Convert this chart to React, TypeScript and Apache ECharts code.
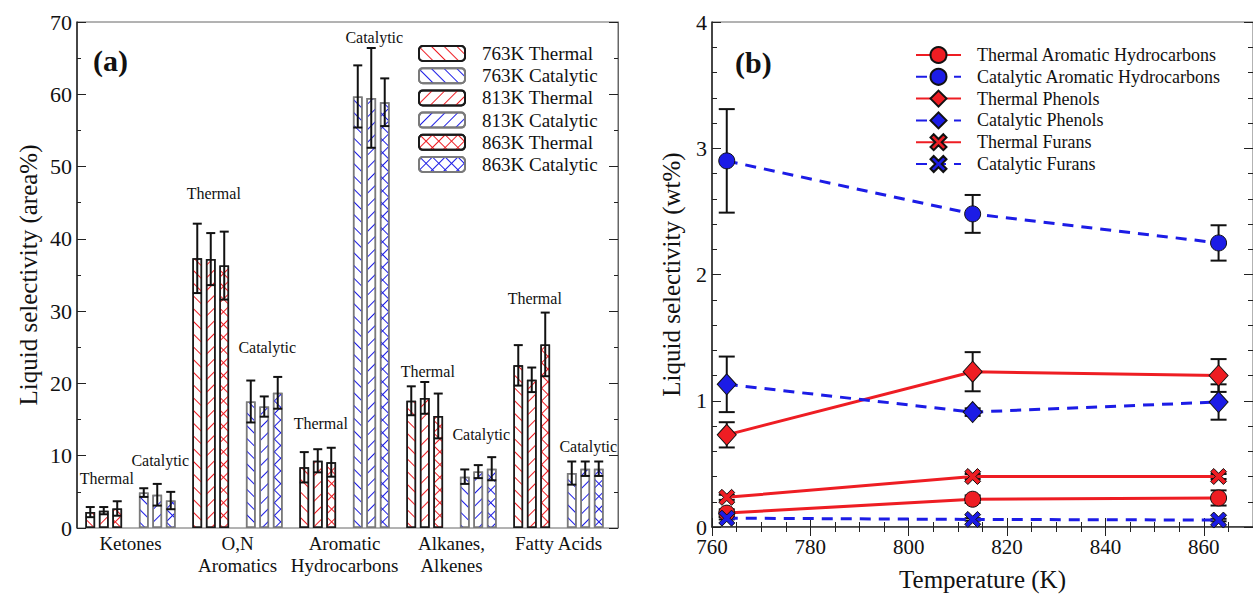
import React, { useEffect, useRef } from "react";
import * as echarts from "echarts";

// ---------- Panel (a) data ----------
const groupNames = ["Ketones", "O,N\nAromatics", "Aromatic\nHydrocarbons", "Alkanes,\nAlkenes", "Fatty Acids"];
const barCategories = ["K-T", "K-C", "ON-T", "ON-C", "AH-T", "AH-C", "AA-T", "AA-C", "FA-T", "FA-C"];
const thermal763 = [2.2, 37.3, 8.4, 17.6, 22.5];
const thermal813 = [2.4, 37.2, 9.3, 18.0, 20.5];
const thermal863 = [2.7, 36.3, 9.1, 15.5, 25.4];
const catalytic763 = [4.9, 17.5, 59.7, 7.1, 7.6];
const catalytic813 = [4.6, 16.8, 59.5, 7.8, 8.2];
const catalytic863 = [3.8, 18.7, 58.9, 8.2, 8.2];
const thermal763Err = [0.7, 4.8, 2.1, 2.0, 2.8];
const thermal813Err = [0.5, 3.6, 1.6, 2.2, 1.7];
const thermal863Err = [1.0, 4.7, 2.0, 3.1, 4.4];
const catalytic763Err = [0.6, 2.9, 4.3, 1.0, 1.6];
const catalytic813Err = [1.5, 1.4, 6.9, 0.9, 1.0];
const catalytic863Err = [1.2, 2.2, 3.3, 1.6, 1.0];
const thermalLabelY = [6.9, 46.3, 14.5, 21.6, 31.7];
const catalyticLabelY = [9.4, 25.0, 67.9, 12.9, 11.3];
const yTicksA = { min: 0, max: 70, interval: 10 };

// ---------- Panel (b) data ----------
const temperatures = [763, 813, 863];
const thermalAH = [0.11, 0.22, 0.23];
const thermalAHErr = [0.03, 0.03, 0.06];
const catalyticAH = [2.9, 2.48, 2.25];
const catalyticAHErr = [0.41, 0.15, 0.14];
const thermalPhenols = [0.73, 1.23, 1.2];
const thermalPhenolsErr = [0.1, 0.155, 0.13];
const catalyticPhenols = [1.13, 0.91, 0.99];
const catalyticPhenolsErr = [0.22, 0.03, 0.14];
const thermalFurans = [0.235, 0.4, 0.4];
const thermalFuransErr = [0.02, 0.02, 0.02];
const catalyticFurans = [0.07, 0.06, 0.055];
const catalyticFuransErr = [0.01, 0.01, 0.01];

const FONT = "Liberation Serif";
const RED = "#ee1d23";
const BLUE = "#1c1ce6";
const BAR_W = 9.7;
const BAR_GAP = 0.39;

const stripes = (color: string, rot: number) => ({
  symbol: "rect",
  symbolSize: 1,
  symbolKeepAspect: false,
  color,
  dashArrayX: [1, 0],
  dashArrayY: [1, 8],
  rotation: rot,
});
const cross = (color: string) => ({
  symbol: "rect",
  symbolSize: 1,
  symbolKeepAspect: false,
  color,
  dashArrayX: [
    [1, 8],
    [9, 0],
  ],
  dashArrayY: [8, 0, 1, 0],
  rotation: Math.PI / 4,
});

const X_SYMBOL = "path://M2,0 L5,3 L8,0 L10,2 L7,5 L10,8 L8,10 L5,7 L2,10 L0,8 L3,5 L0,2 Z";

function interleave(vals: number[], thermal: boolean) {
  const out: (number | string)[] = [];
  vals.forEach((v) => {
    if (thermal) out.push(v, "-");
    else out.push("-", v);
  });
  return out;
}

export default function App() {
  const ref = useRef<HTMLDivElement>(null);
  useEffect(() => {
    const chart = echarts.init(ref.current!, null, { renderer: "svg" });

    const barSpecs = [
      { name: "763K Thermal", vals: thermal763, errs: thermal763Err, thermal: true, t: 0 },
      { name: "763K Catalytic", vals: catalytic763, errs: catalytic763Err, thermal: false, t: 0 },
      { name: "813K Thermal", vals: thermal813, errs: thermal813Err, thermal: true, t: 1 },
      { name: "813K Catalytic", vals: catalytic813, errs: catalytic813Err, thermal: false, t: 1 },
      { name: "863K Thermal", vals: thermal863, errs: thermal863Err, thermal: true, t: 2 },
      { name: "863K Catalytic", vals: catalytic863, errs: catalytic863Err, thermal: false, t: 2 },
    ];

    const barSeries = barSpecs.map((s) => {
      const color = s.thermal ? RED : BLUE;
      const decal = s.t === 0 ? stripes(color, Math.PI / 4) : s.t === 1 ? stripes(color, -Math.PI / 4) : cross(color);
      return {
        type: "bar",
        name: s.name,
        xAxisIndex: 0,
        yAxisIndex: 0,
        stack: ["763K", "813K", "863K"][s.t],
        barWidth: BAR_W,
        barGap: BAR_GAP * 100 + "%",
        data: interleave(s.vals, s.thermal),
        itemStyle: {
          color: "#ffffff",
          borderColor: s.thermal ? "#1a1a1a" : "#7a7a7a",
          borderWidth: 1.5,
          decal,
        },
        z: 2,
      };
    });

    const barErrData: number[][] = [];
    barSpecs.forEach((s) => {
      s.vals.forEach((v, g) => {
        barErrData.push([g * 2 + (s.thermal ? 0 : 1), v, s.errs[g], s.t]);
      });
    });

    const labelData: any[] = [];
    groupNames.forEach((_, g) => {
      labelData.push({ value: [g * 2, thermalLabelY[g]], name: "Thermal" });
      labelData.push({ value: [g * 2 + 1, catalyticLabelY[g]], name: "Catalytic" });
    });

    const lineSpecs = [
      { name: "Thermal Aromatic Hydrocarbons", vals: thermalAH, errs: thermalAHErr, color: RED, dashed: false, symbol: "circle", size: 16 },
      { name: "Catalytic Aromatic Hydrocarbons", vals: catalyticAH, errs: catalyticAHErr, color: BLUE, dashed: true, symbol: "circle", size: 16 },
      { name: "Thermal Phenols", vals: thermalPhenols, errs: thermalPhenolsErr, color: RED, dashed: false, symbol: "diamond", size: [19, 21] },
      { name: "Catalytic Phenols", vals: catalyticPhenols, errs: catalyticPhenolsErr, color: BLUE, dashed: true, symbol: "diamond", size: [19, 21] },
      { name: "Thermal Furans", vals: thermalFurans, errs: thermalFuransErr, color: RED, dashed: false, symbol: X_SYMBOL, size: 16 },
      { name: "Catalytic Furans", vals: catalyticFurans, errs: catalyticFuransErr, color: BLUE, dashed: true, symbol: X_SYMBOL, size: 16 },
    ];

    const lineErrData: number[][] = [];
    lineSpecs.forEach((s) => {
      s.vals.forEach((v, i) => lineErrData.push([temperatures[i], v, s.errs[i]]));
    });

    const lineSeries = lineSpecs.map((s) => ({
      type: "line",
      name: s.name,
      xAxisIndex: 3,
      yAxisIndex: 3,
      data: s.vals.map((v, i) => [temperatures[i], v]),
      symbol: s.symbol,
      symbolSize: s.size,
      showAllSymbol: true,
      lineStyle: { color: s.color, width: 3, type: s.dashed ? [11, 8] : "solid" },
      itemStyle: { color: s.color, borderColor: "#111", borderWidth: 1, opacity: 1 },
      z: 3,
    }));

    const textStyle = { fontFamily: FONT, color: "#111" };

    const option: any = {
      animation: false,
      backgroundColor: "#ffffff",
      textStyle,
      grid: [
        { left: 77, top: 22, width: 535, height: 506, show: false },
        { left: 77, top: 22, width: 541, height: 506, show: true, borderColor: "#666", borderWidth: 1, backgroundColor: "transparent" },
        { left: 712, top: 22, width: 541, height: 506, show: true, borderColor: "#666", borderWidth: 1, backgroundColor: "transparent" },
      ],
      xAxis: [
        { gridIndex: 0, type: "category", data: barCategories, show: false },
        {
          gridIndex: 0,
          type: "category",
          data: groupNames,
          position: "bottom",
          axisLine: { show: false },
          axisTick: { show: false },
          axisLabel: { interval: 0, fontFamily: FONT, fontSize: 19, color: "#111", margin: 4, lineHeight: 22 },
        },
        { gridIndex: 1, type: "value", min: 0, max: 1, show: false },
        {
          gridIndex: 2,
          type: "value",
          min: 760,
          max: 870,
          interval: 20,
          position: "bottom",
          name: "Temperature (K)",
          nameLocation: "middle",
          nameGap: 40,
          nameTextStyle: { fontFamily: FONT, fontSize: 25, color: "#111" },
          axisLine: { show: true, lineStyle: { color: "#222", width: 1.5 } },
          axisTick: { show: true, inside: true, length: 9, lineStyle: { color: "#222" } },
          minorTick: { show: true, splitNumber: 4, length: 5, lineStyle: { color: "#222" } },
          splitLine: { show: false },
          axisLabel: { fontFamily: FONT, fontSize: 21, color: "#111", margin: 9, showMaxLabel: false },
        },
        {
          gridIndex: 2,
          type: "value",
          min: 760,
          max: 870,
          interval: 20,
          position: "top",
          axisLine: { show: true, lineStyle: { color: "#666" } },
          axisTick: { show: true, inside: true, length: 9, lineStyle: { color: "#222" } },
          minorTick: { show: true, splitNumber: 4, length: 5, lineStyle: { color: "#222" } },
          splitLine: { show: false },
          axisLabel: { show: false },
        },
      ],
      yAxis: [
        { gridIndex: 0, type: "value", ...yTicksA, show: false },
        {
          gridIndex: 1,
          type: "value",
          ...yTicksA,
          position: "left",
          name: "Liquid selectivity (area%)",
          nameLocation: "middle",
          nameGap: 36,
          nameTextStyle: { fontFamily: FONT, fontSize: 25, color: "#111" },
          axisLine: { show: true, lineStyle: { color: "#222", width: 1.5 } },
          axisTick: { show: true, inside: true, length: 9, lineStyle: { color: "#222" } },
          minorTick: { show: true, splitNumber: 2, length: 4, lineStyle: { color: "#222" } },
          splitLine: { show: false },
          axisLabel: { fontFamily: FONT, fontSize: 22, color: "#111", margin: 5 },
        },
        {
          gridIndex: 1,
          type: "value",
          ...yTicksA,
          position: "right",
          axisLine: { show: true, lineStyle: { color: "#666" } },
          axisTick: { show: true, inside: true, length: 9, lineStyle: { color: "#222" } },
          minorTick: { show: true, splitNumber: 2, length: 4, lineStyle: { color: "#222" } },
          splitLine: { show: false },
          axisLabel: { show: false },
        },
        {
          gridIndex: 2,
          type: "value",
          min: 0,
          max: 4,
          interval: 1,
          position: "left",
          name: "Liquid selectivity (wt%)",
          nameLocation: "middle",
          nameGap: 28,
          nameTextStyle: { fontFamily: FONT, fontSize: 25, color: "#111" },
          axisLine: { show: true, lineStyle: { color: "#222", width: 1.5 } },
          axisTick: { show: true, inside: true, length: 9, lineStyle: { color: "#222" } },
          minorTick: { show: true, splitNumber: 5, length: 5, lineStyle: { color: "#222" } },
          splitLine: { show: false },
          axisLabel: { fontFamily: FONT, fontSize: 22, color: "#111", margin: 5 },
        },
        {
          gridIndex: 2,
          type: "value",
          min: 0,
          max: 4,
          interval: 1,
          position: "right",
          axisLine: { show: true, lineStyle: { color: "#666" } },
          axisTick: { show: true, inside: true, length: 9, lineStyle: { color: "#222" } },
          minorTick: { show: true, splitNumber: 5, length: 5, lineStyle: { color: "#222" } },
          splitLine: { show: false },
          axisLabel: { show: false },
        },
      ],
      legend: [
        {
          orient: "vertical",
          left: 413,
          top: 39,
          itemWidth: 46,
          itemHeight: 15,
          itemGap: 3.2,
          selectedMode: false,
          data: barSpecs.map((s) => s.name),
          textStyle: { fontFamily: FONT, fontSize: 19, color: "#111", padding: [0, 0, 0, 12] },
        },
        {
          orient: "vertical",
          left: 910,
          top: 41,
          itemWidth: 45,
          itemHeight: 20,
          itemGap: 3.8,
          selectedMode: false,
          data: lineSpecs.map((s) => s.name),
          textStyle: { fontFamily: FONT, fontSize: 18, color: "#111", padding: [0, 0, 0, 11] },
        },
      ],
      graphic: [
        { type: "text", left: 93, top: 45, style: { text: "(a)", font: `bold 30px ${FONT}`, fill: "#111" } },
        { type: "text", left: 735, top: 47, style: { text: "(b)", font: `bold 30px ${FONT}`, fill: "#111" } },
      ],
      series: [
        ...barSeries,
        {
          type: "custom",
          name: "barErrors",
          xAxisIndex: 0,
          yAxisIndex: 0,
          data: barErrData,
          z: 5,
          renderItem: (params: any, api: any) => {
            const cat = api.value(0);
            const v = api.value(1);
            const e = api.value(2);
            const t = api.value(3);
            const dx = (t - 1) * BAR_W * (1 + BAR_GAP);
            const top = api.coord([cat, v + e]);
            const bot = api.coord([cat, v - e]);
            const x = top[0] + dx;
            const cap = 4.5;
            const st = { stroke: "#111", lineWidth: 2 };
            return {
              type: "group",
              children: [
                { type: "line", shape: { x1: x, y1: top[1], x2: x, y2: bot[1] }, style: st },
                { type: "line", shape: { x1: x - cap, y1: top[1], x2: x + cap, y2: top[1] }, style: st },
                { type: "line", shape: { x1: x - cap, y1: bot[1], x2: x + cap, y2: bot[1] }, style: st },
              ],
            };
          },
        },
        {
          type: "custom",
          name: "groupLabels",
          xAxisIndex: 0,
          yAxisIndex: 0,
          data: labelData,
          z: 6,
          renderItem: (params: any, api: any) => {
            const p = api.coord([api.value(0), api.value(1)]);
            const item = labelData[params.dataIndex];
            return {
              type: "text",
              x: p[0] + 3,
              y: p[1],
              style: {
                text: item.name,
                font: `16px ${FONT}`,
                fill: "#111",
                textAlign: "center",
                textVerticalAlign: "middle",
              },
            };
          },
        },
        {
          type: "custom",
          name: "lineErrors",
          xAxisIndex: 3,
          yAxisIndex: 3,
          data: lineErrData,
          z: 1,
          renderItem: (params: any, api: any) => {
            const xv = api.value(0);
            const v = api.value(1);
            const e = api.value(2);
            const top = api.coord([xv, v + e]);
            const bot = api.coord([xv, v - e]);
            const x = top[0];
            const cap = 8;
            const st = { stroke: "#111", lineWidth: 2 };
            return {
              type: "group",
              children: [
                { type: "line", shape: { x1: x, y1: top[1], x2: x, y2: bot[1] }, style: st },
                { type: "line", shape: { x1: x - cap, y1: top[1], x2: x + cap, y2: top[1] }, style: st },
                { type: "line", shape: { x1: x - cap, y1: bot[1], x2: x + cap, y2: bot[1] }, style: st },
              ],
            };
          },
        },
        ...lineSeries,
      ],
    };

    chart.setOption(option);
    return () => chart.dispose();
  }, []);

  return (
    <div
      ref={ref}
      style={{ position: "fixed", left: 0, top: 0, width: 1253, height: 597, background: "#ffffff" }}
    />
  );
}
